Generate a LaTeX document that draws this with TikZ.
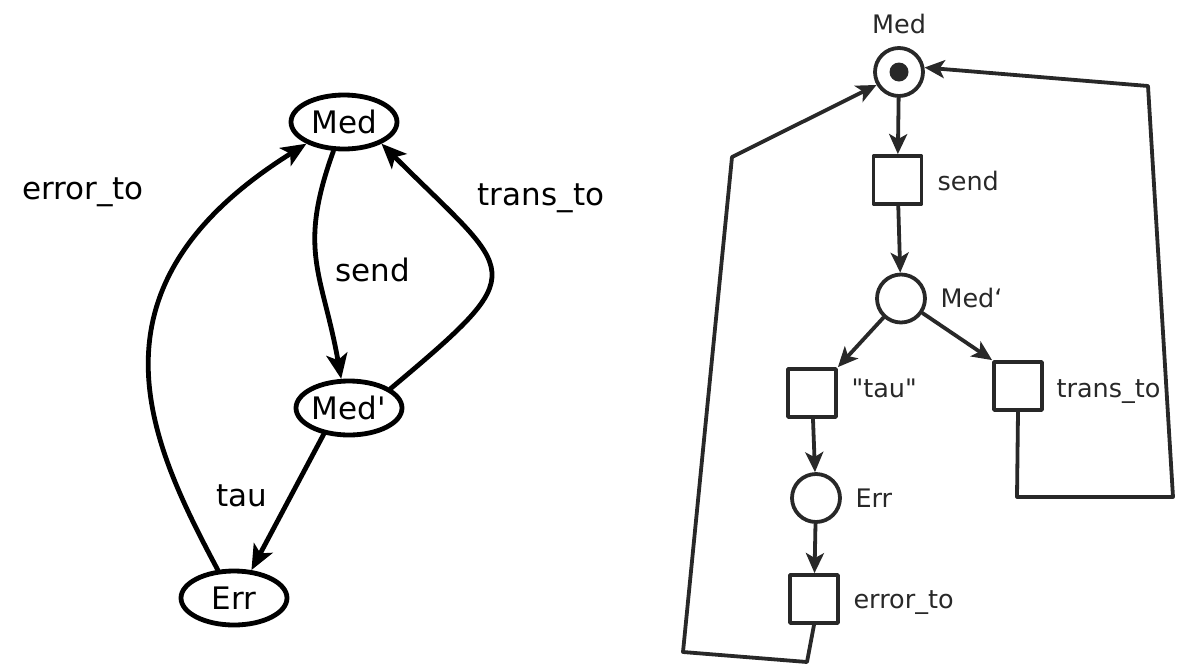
\documentclass[tikz,border=0pt]{standalone}
\usepackage{fontspec}
\newfontfamily\lfont{DejaVu Sans}
\usetikzlibrary{arrows.meta,shapes.geometric}
\definecolor{netgray}{RGB}{40,40,40}
\tikzset{
	stnode/.style={draw,ellipse,line width=4.8pt,minimum width=106pt,minimum height=54pt,inner sep=0pt,font=\lfont\fontsize{31}{36}\selectfont},
	lbltext/.style={font=\lfont\fontsize{31}{36}\selectfont,anchor=base},
	netplace/.style={draw=netgray,circle,line width=3.8pt,minimum size=48pt,inner sep=0pt},
	nettrans/.style={draw=netgray,rectangle,line width=3.8pt,minimum size=48pt,inner sep=0pt},
	netlbl/.style={font=\lfont\fontsize{25.5}{30}\selectfont,text=netgray,anchor=base west},
	netarc/.style={draw=netgray,line width=3.8pt,-{Stealth[length=20pt,width=18pt,inset=5pt]}}
}
\begin{document}
\begin{tikzpicture}[line join = round, line cap = round,>={Stealth[length=25pt,width=21pt,inset=6pt]},x=1pt,y=1pt] 
	\useasboundingbox (0,0) rectangle (1184,-665);
	%Đồ thị trạng thái
	\node[stnode] (med) at (344,-122) {Med};
	\node[stnode] (medp) at (349,-408) {Med'};
	\node[stnode] (err) at (234,-598) {Err};
	\draw[->,line width=4.8pt] (med.250) to[out=-110,in=100,looseness=1.2] (medp.105);
	\draw[->,line width=4.8pt] (medp.25) to[out=40,in=-45,looseness=1.97] (med.-30);
	\draw[->,line width=4.8pt] (medp.226) -- (err.58);
	\draw[->,line width=4.8pt] (err.120) to[out=118,in=212,out looseness=0.85,in looseness=1.6] (med.210);
	\node[lbltext] (errorL) at (83,-199) {error\_to};
	\node[lbltext] (transL) at (541,-205) {trans\_to};
	\node[lbltext] (sendL) at (373,-281) {send};
	\node[lbltext] (tauL) at (242,-506) {tau};
	%Mạng Petri
	\node[netplace] (medN) at (899,-72) {};
	\fill[netgray] (medN) circle (9.5pt);
	\node[netlbl,anchor=base] at (899,-33) {Med};
	\node[nettrans] (sendN) at (897.5,-180) {};
	\node[netlbl] at (934,-190) {send};
	\node[netplace] (medpN) at (901,-298.5) {};
	\node[netlbl] at (937,-307) {Med‘};
	\node[nettrans] (tauN) at (812,-393) {};
	\node[netlbl] at (848,-397) {"tau"};
	\node[nettrans] (transN) at (1018,-386) {};
	\node[netlbl] at (1053,-397) {trans\_to};
	\node[netplace] (errN) at (816,-498) {};
	\node[netlbl] at (852,-507) {Err};
	\node[nettrans] (errtoN) at (814,-599) {};
	\node[netlbl] at (850,-608) {error\_to};
	\draw[netarc] (medN) -- (sendN);
	\draw[netarc] (sendN) -- (medpN);
	\draw[netarc] (medpN) -- (tauN.north east);
	\draw[netarc] (medpN) -- (transN.north west);
	\draw[netarc] (tauN) -- (errN);
	\draw[netarc] (errN) -- (errtoN);
	%Các cung quay về
	\coordinate (e1) at (807,-662);
	\coordinate (e2) at (683,-652);
	\coordinate (e3) at (732,-157);
	\draw[netarc] (errtoN.south) -- (e1) -- (e2) -- (e3) -- (medN.210);
	\coordinate (t1) at (1017,-497);
	\coordinate (t2) at (1173,-497);
	\coordinate (t3) at (1148,-86);
	\draw[netarc] (transN.south) -- (t1) -- (t2) -- (t3) -- (medN.10);
\end{tikzpicture}
\end{document}
